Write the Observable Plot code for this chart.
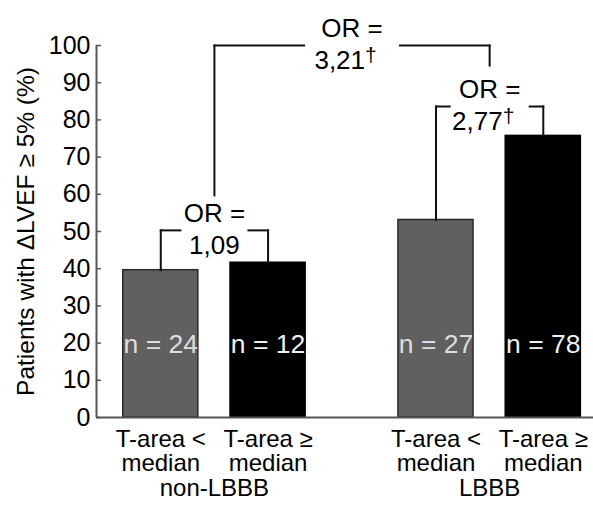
<!DOCTYPE html>
<html><head><meta charset="utf-8">
<script src="https://cdn.jsdelivr.net/npm/d3@7"></script>
<script src="https://cdn.jsdelivr.net/npm/@observablehq/plot@0.6"></script>
<style>body{margin:0;background:#fff}</style>
</head><body><div id="chart"></div>
<script>
// ---- data ----
const groups = ["non-LBBB", "LBBB"];
const subgroupLine1 = ["T-area <", "T-area ≥"];
const subgroupLine2 = ["median", "median"];
const values = [39.6, 41.6, 53.1, 75.7];
const nLabels = ["n = 24", "n = 12", "n = 27", "n = 78"];
const orValues = ["1,09", "2,77", "3,21"];
const orSignif = ["", "†", "†"];
const bracketLevels = [50.3, 83.6, 100];
const overallLegEnds = [59.7, 94.6];
const yTicks = [0, 10, 20, 30, 40, 50, 60, 70, 80, 90, 100];
const yLabel = "Patients with ΔLVEF ≥ 5% (%)";

// ---- layout ----
const groupOffset = 2.565, barWidth = 0.70, nLabelLevel = 19.5;
const xMin = -0.599, xMax = 4.033;
const gapHalf = [0.317, 0.373, 0.447];
const font = "'Liberation Sans', Arial, Helvetica, sans-serif";

const bars = values.map((v, i) => {
  const g = Math.floor(i / 2), s = i % 2;
  return {x: g * groupOffset + s, v, g, s, n: nLabels[i], l1: subgroupLine1[s], l2: subgroupLine2[s]};
});
const groupCenters = groups.map((name, g) => ({name, x: g * groupOffset + 0.5}));

const brackets = [
  {xa: bars[0].x, xb: bars[1].x, ya: bars[0].v, yb: bars[1].v, h: bracketLevels[0]},
  {xa: bars[2].x, xb: bars[3].x, ya: bars[2].v, yb: bars[3].v, h: bracketLevels[1]},
  {xa: groupCenters[0].x, xb: groupCenters[1].x, ya: overallLegEnds[0], yb: overallLegEnds[1], h: bracketLevels[2]}
].map((b, i) => ({...b, cx: (b.xa + b.xb) / 2, or: orValues[i], sig: orSignif[i], gap: gapHalf[i]}));

const segs = brackets.flatMap(b => [
  {x1: b.xa, y1: b.ya, x2: b.xa, y2: b.h},
  {x1: b.xb, y1: b.yb, x2: b.xb, y2: b.h},
  {x1: b.xa, y1: b.h, x2: b.cx - b.gap, y2: b.h},
  {x1: b.cx + b.gap, y1: b.h, x2: b.xb, y2: b.h}
]);

const chart = Plot.plot({
  width: 593, height: 508,
  marginLeft: 96, marginRight: 0, marginTop: 45, marginBottom: 91,
  style: {fontFamily: font, fontSize: "24px", background: "#fff", color: "#000"},
  x: {domain: [xMin, xMax], axis: null},
  y: {domain: [0, 100], axis: null},
  marks: [
    Plot.rectY(bars, {x1: d => d.x - barWidth / 2, x2: d => d.x + barWidth / 2, y1: 0, y2: "v",
      fill: d => d.s === 0 ? "#606060" : "#000", stroke: d => d.s === 0 ? "#2a2a2a" : "#000", strokeWidth: 1.5}),
    Plot.text(bars, {x: "x", y: () => nLabelLevel, text: "n", fill: d => d.s === 0 ? "#dedede" : "#f0f0f0", fontSize: 26.5}),
    Plot.ruleY([0], {stroke: "#555", strokeWidth: 2}),
    Plot.ruleX([xMin], {y1: 0, y2: 100, stroke: "#555", strokeWidth: 2}),
    Plot.axisY({ticks: yTicks, tickSize: -5, tickPadding: 11, stroke: "#555", strokeWidth: 1.5, fontSize: 25, fill: "#000", label: null}),
    Plot.text([yLabel], {frameAnchor: "left", rotate: -90, dx: -70, textAnchor: "middle", fontSize: 24.5, fill: "#000"}),
    Plot.text(bars, {x: "x", y: 0, text: "l1", dy: 21.5, fontSize: 24, fill: "#000"}),
    Plot.text(bars, {x: "x", y: 0, text: "l2", dy: 46, fontSize: 24, fill: "#000"}),
    Plot.text(groupCenters, {x: "x", y: 0, text: "name", dy: 70.5, fontSize: 24, fill: "#000"}),
    Plot.link(segs, {x1: "x1", y1: "y1", x2: "x2", y2: "y2", stroke: "#111", strokeWidth: 2, strokeLinecap: "square"}),
    Plot.text(brackets, {x: "cx", y: "h", text: () => "OR =", dy: -17, fontSize: 26, fill: "#000"}),
    Plot.text(brackets.filter(b => !b.sig), {x: "cx", y: "h", text: "or", dy: 15, fontSize: 26, fill: "#000"}),
    Plot.text(brackets.filter(b => b.sig), {x: "cx", y: "h", text: "or", dy: 15, dx: 13, textAnchor: "end", fontSize: 26, fill: "#000"}),
    Plot.text(brackets.filter(b => b.sig), {x: "cx", y: "h", text: "sig", dy: 10, dx: 13, textAnchor: "start", fontSize: 21, fill: "#000"})
  ]
});
document.getElementById("chart").appendChild(chart);
</script></body></html>
